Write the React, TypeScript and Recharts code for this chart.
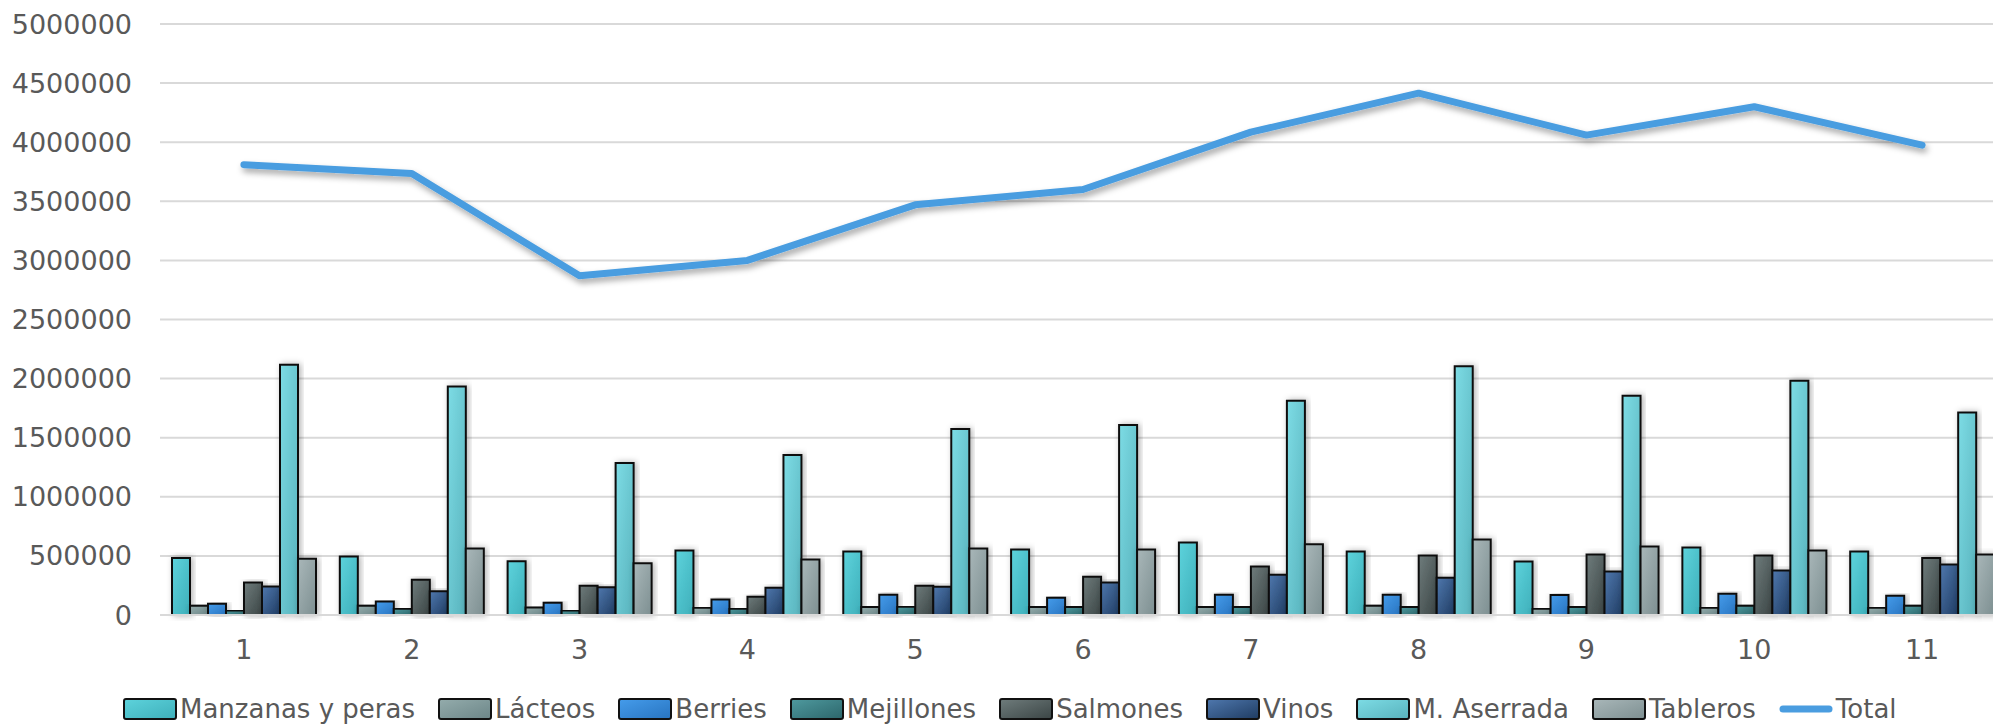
import { ComposedChart, Bar, Line, XAxis, YAxis, CartesianGrid, Legend } from 'recharts'

const categories = ['1', '2', '3', '4', '5', '6', '7', '8', '9', '10', '11']

const manzanas = [483000, 495000, 455000, 546000, 537000, 554000, 614000, 537000, 452000, 571000, 537000]
const lacteos = [78000, 78000, 64000, 61000, 67000, 67000, 67000, 78000, 52000, 61000, 61000]
const berries = [95000, 115000, 103000, 132000, 171000, 146000, 171000, 171000, 169000, 180000, 163000]
const mejillones = [38000, 52000, 38000, 52000, 69000, 67000, 67000, 67000, 67000, 78000, 78000]
const salmones = [276000, 299000, 248000, 154000, 248000, 324000, 410000, 503000, 512000, 503000, 483000]
const vinos = [242000, 200000, 234000, 231000, 239000, 276000, 341000, 316000, 367000, 376000, 427000]
const aserrada = [2118000, 1934000, 1285000, 1353000, 1574000, 1608000, 1812000, 2104000, 1855000, 1982000, 1713000]
const tableros = [475000, 563000, 438000, 469000, 563000, 554000, 599000, 639000, 580000, 546000, 512000]
const total = [3810000, 3735000, 2870000, 3000000, 3470000, 3600000, 4085000, 4415000, 4060000, 4300000, 3975000]

const yTicks = [0, 500000, 1000000, 1500000, 2000000, 2500000, 3000000, 3500000, 4000000, 4500000, 5000000]

// bar series: key, legend label, gradient stops (light -> dark)
const barSeries = [
  { key: 'manzanas', name: 'Manzanas y peras', from: '#5dd3dc', to: '#3eafba' },
  { key: 'lacteos', name: 'Lácteos', from: '#94acac', to: '#6c8688' },
  { key: 'berries', name: 'Berries', from: '#459ceb', to: '#2874c0' },
  { key: 'mejillones', name: 'Mejillones', from: '#4f9a9f', to: '#2c666b' },
  { key: 'salmones', name: 'Salmones', from: '#6f7c7c', to: '#3b4545' },
  { key: 'vinos', name: 'Vinos', from: '#4f78ae', to: '#1f3c62' },
  { key: 'aserrada', name: 'M. Aserrada', from: '#7ddce5', to: '#58b2bc' },
  { key: 'tableros', name: 'Tableros', from: '#a9b7b9', to: '#7d8f91' },
]

const LINE_COLOR = '#4a9de0'
const FONT = '"DejaVu Sans", sans-serif'

const data = categories.map((c, i) => ({
  cat: c,
  manzanas: manzanas[i],
  lacteos: lacteos[i],
  berries: berries[i],
  mejillones: mejillones[i],
  salmones: salmones[i],
  vinos: vinos[i],
  aserrada: aserrada[i],
  tableros: tableros[i],
  total: total[i],
}))

function LegendRow() {
  return (
    <div
      style={{
        display: 'flex',
        alignItems: 'center',
        height: 34,
        paddingLeft: 123,
        fontFamily: FONT,
        fontSize: 26,
        color: '#595959',
        whiteSpace: 'nowrap',
      }}
    >
      {barSeries.map((s) => (
        <div key={s.key} style={{ display: 'flex', alignItems: 'center', marginRight: 23 }}>
          <svg width={54} height={22} style={{ marginRight: 3 }}>
            <rect x={1} y={1} width={52} height={20} rx={2} fill={`url(#lg-${s.key})`} stroke="#111" strokeWidth={2} />
          </svg>
          <span>{s.name}</span>
        </div>
      ))}
      <div style={{ display: 'flex', alignItems: 'center' }}>
        <svg width={54} height={22} style={{ marginRight: 3 }}>
          <line x1={4} y1={11} x2={50} y2={11} stroke={LINE_COLOR} strokeWidth={7} strokeLinecap="round" />
        </svg>
        <span>Total</span>
      </div>
    </div>
  )
}

export default function App() {
  return (
    <div style={{ position: 'fixed', left: 0, top: 0, width: 1993, height: 726, overflow: 'hidden', background: '#fff' }}>
      <ComposedChart
        width={2006}
        height={726}
        data={data}
        margin={{ top: 24, right: 0, left: 0, bottom: 0 }}
        barCategoryGap={12}
        barGap={0}
      >
        <defs>
          {barSeries.map((s) => (
            <linearGradient key={s.key} id={`g-${s.key}`} x1="0" y1="0" x2="1" y2="1">
              <stop offset="0%" stopColor={s.from} />
              <stop offset="100%" stopColor={s.to} />
            </linearGradient>
          ))}
          {barSeries.map((s) => (
            <linearGradient key={s.key} id={`lg-${s.key}`} x1="0" y1="0" x2="1" y2="1">
              <stop offset="0%" stopColor={s.from} />
              <stop offset="100%" stopColor={s.to} />
            </linearGradient>
          ))}
          <filter id="barShadow" x="-30%" y="-10%" width="160%" height="120%">
            <feDropShadow dx="2" dy="0" stdDeviation="3" floodColor="#000" floodOpacity="0.3" />
          </filter>
          <filter id="lineShadow" x="-5%" y="-20%" width="110%" height="140%">
            <feDropShadow dx="2" dy="4" stdDeviation="3" floodColor="#000" floodOpacity="0.35" />
          </filter>
        </defs>
        <CartesianGrid vertical={false} stroke="#d9d9d9" strokeWidth={2} />
        <XAxis
          dataKey="cat"
          height={77}
          axisLine={{ stroke: '#d9d9d9', strokeWidth: 2 }}
          tickLine={false}
          tickMargin={19}
          tick={{ fill: '#595959', fontSize: 27, fontFamily: FONT }}
          interval={0}
        />
        <YAxis
          width={160}
          domain={[0, 5000000]}
          ticks={yTicks}
          axisLine={false}
          tickLine={false}
          tickMargin={22}
          tick={{ fill: '#595959', fontSize: 27, fontFamily: FONT }}
          tickFormatter={(v) => String(v)}
        />
        {barSeries.map((s) => (
          <Bar
            key={s.key}
            dataKey={s.key}
            name={s.name}
            fill={`url(#g-${s.key})`}
            stroke="#111"
            strokeWidth={2}
            filter="url(#barShadow)"
            isAnimationActive={false}
          />
        ))}
        <Line
          type="linear"
          dataKey="total"
          name="Total"
          stroke={LINE_COLOR}
          strokeWidth={7}
          strokeLinecap="round"
          strokeLinejoin="round"
          dot={false}
          activeDot={false}
          filter="url(#lineShadow)"
          isAnimationActive={false}
        />
        <Legend verticalAlign="bottom" content={<LegendRow />} wrapperStyle={{ left: 0, width: 2006, height: 34 }} />
      </ComposedChart>
    </div>
  )
}
